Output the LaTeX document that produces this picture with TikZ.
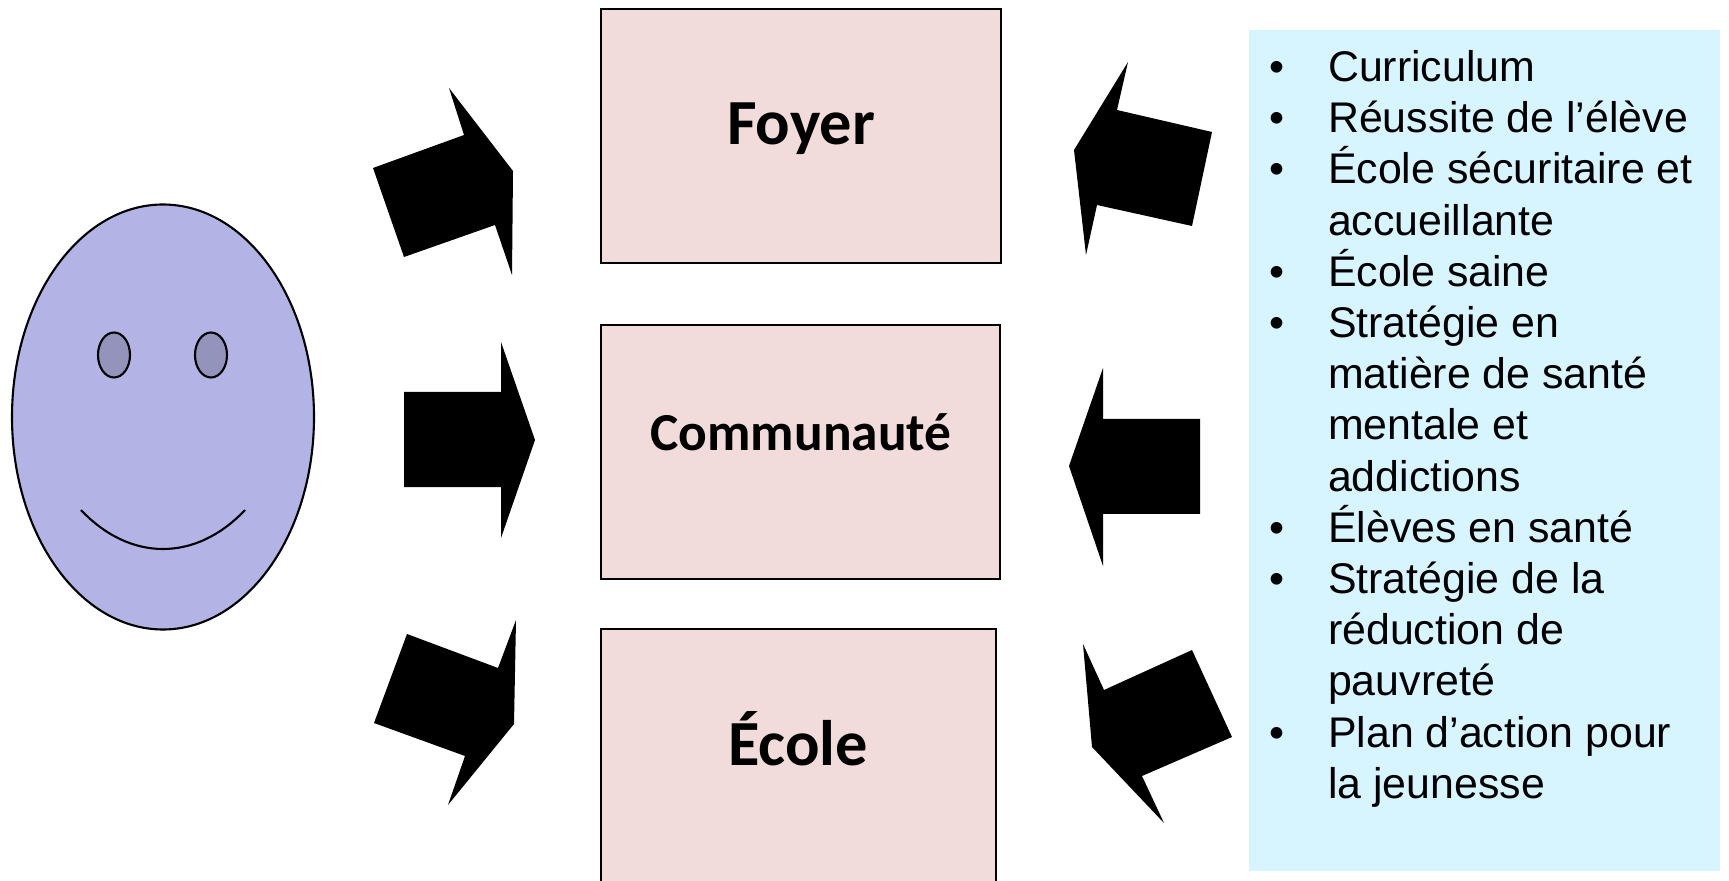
\documentclass[tikz,border=0pt]{standalone}
\usepackage{fontspec}
\setmainfont{Liberation Sans}
\newfontfamily\carlitofont{Carlito}
\usepackage{tikz}
\definecolor{facefill}{HTML}{B3B3E6}
\definecolor{eyefill}{HTML}{9393BB}
\definecolor{roomfill}{HTML}{F2DCDB}
\definecolor{listfill}{HTML}{D6F5FF}

\begin{document}
\begin{tikzpicture}[line width=.6pt]
            \tikzstyle{room}=[rectangle,draw,fill=roomfill,anchor=north west,inner sep=0pt]
            \tikzstyle{roomlabel}=[font=\carlitofont\bfseries\fontsize{18.3}{22}\selectfont]
            \tikzstyle{blockarrow}=[fill=black]
            \tikzstyle{bullet}=[anchor=base,inner sep=0pt,font=\fontsize{12.2}{14}\selectfont]
            \tikzstyle{line}=[anchor=base west,inner sep=0pt,font=\fontsize{12.2}{14}\selectfont]

            \clip (0,0) rectangle (17.29,8.8);

            % face
            \draw[fill=facefill] (1.63,4.63) ellipse (1.51 and 2.125);
            \draw[fill=eyefill] (1.14,5.25) ellipse (.16 and .225);
            \draw[fill=eyefill] (2.11,5.25) ellipse (.16 and .225);
            \draw (.81,3.7) .. controls (1.3,3.18) and (1.96,3.18) .. (2.45,3.7);

            % rooms
            \node[room,minimum width=4cm,minimum height=2.54cm] (foyer) at (6,8.72) {};
            \node[room,minimum width=3.99cm,minimum height=2.54cm] (communaute) at (6,5.56) {};
            \node[room,minimum width=3.95cm,minimum height=2.9cm] (ecole) at (6,2.52) {};

            % room names
            \node[roomlabel] (foyername) at (8.01,7.51) {Foyer};
            \node[roomlabel,font=\carlitofont\bfseries\fontsize{15.2}{18}\selectfont] (communautename) at (8.01,4.48) {Communauté};
            \node[roomlabel] (ecolename) at (7.98,1.41) {École};

            % left arrows
            \fill[blockarrow] (3.73,7.12) -- (4.64,7.45) -- (4.49,7.92) -- (5.13,7.09) -- (5.12,6.05) -- (4.95,6.55) -- (4.04,6.23) -- cycle;
            \fill[blockarrow] (4.04,4.88) -- (5.01,4.88) -- (5.01,5.38) -- (5.35,4.4) -- (5.01,3.42) -- (5.01,3.93) -- (4.04,3.93) -- cycle;
            \fill[blockarrow] (4.07,2.46) -- (4.98,2.12) -- (5.16,2.6) -- (5.14,1.56) -- (4.48,.75) -- (4.65,1.24) -- (3.74,1.57) -- cycle;

            % right arrows
            \fill[blockarrow] (11.28,8.18) -- (11.17,7.7) -- (12.12,7.48) -- (11.92,6.54) -- (10.97,6.75) -- (10.86,6.25) -- (10.74,7.3) -- cycle;
            \fill[blockarrow] (11.03,5.12) -- (11.03,4.61) -- (12,4.61) -- (12,3.66) -- (11.03,3.66) -- (11.03,3.14) -- (10.69,4.14) -- cycle;
            \fill[blockarrow] (10.83,2.36) -- (11.04,1.9) -- (11.92,2.3) -- (12.32,1.43) -- (11.42,1.04) -- (11.64,.57) -- (10.92,1.33) -- cycle;

            % list panel
            \fill[listfill] (12.49,.09) rectangle (17.2,8.5);

            % bullets
            \node[bullet] (b1) at (12.77,7.985) {•};
            \node[bullet] (b2) at (12.77,7.475) {•};
            \node[bullet] (b3) at (12.77,6.965) {•};
            \node[bullet] (b4) at (12.77,5.935) {•};
            \node[bullet] (b5) at (12.77,5.425) {•};
            \node[bullet] (b6) at (12.77,3.375) {•};
            \node[bullet] (b7) at (12.77,2.865) {•};
            \node[bullet] (b8) at (12.77,1.325) {•};

            % list lines
            \node[line] (l1) at (13.27,7.985) {Curriculum};
            \node[line] (l2) at (13.27,7.475) {Réussite de l’élève};
            \node[line] (l3) at (13.27,6.965) {École sécuritaire et};
            \node[line] (l4) at (13.27,6.445) {accueillante};
            \node[line] (l5) at (13.27,5.935) {École saine};
            \node[line] (l6) at (13.27,5.425) {Stratégie en};
            \node[line] (l7) at (13.27,4.915) {matière de santé};
            \node[line] (l8) at (13.27,4.405) {mentale et};
            \node[line] (l9) at (13.27,3.885) {addictions};
            \node[line] (l10) at (13.27,3.375) {Élèves en santé};
            \node[line] (l11) at (13.27,2.865) {Stratégie de la};
            \node[line] (l12) at (13.27,2.355) {réduction de};
            \node[line] (l13) at (13.27,1.845) {pauvreté};
            \node[line] (l14) at (13.27,1.325) {Plan d’action pour};
            \node[line] (l15) at (13.27,.815) {la jeunesse};
        \end{tikzpicture}
\end{document}
